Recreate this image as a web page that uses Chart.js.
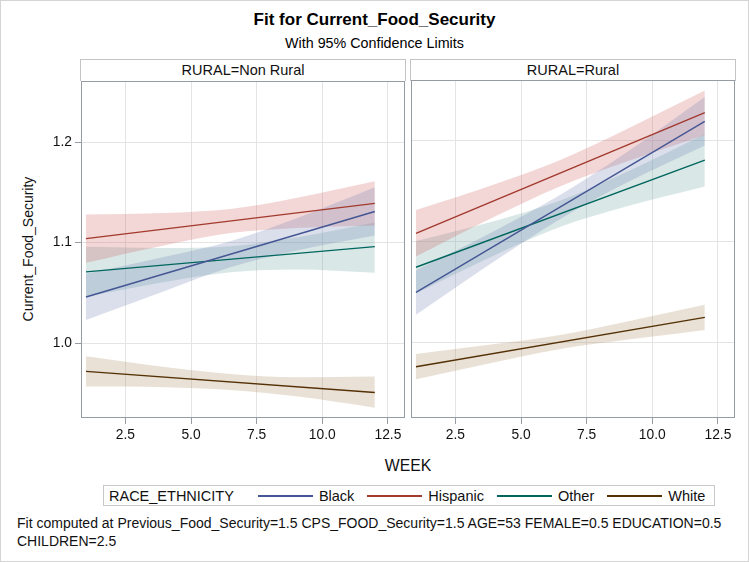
<!DOCTYPE html>
<html>
<head>
<meta charset="utf-8">
<script src="https://cdn.jsdelivr.net/npm/chart.js@4/dist/chart.umd.min.js"></script>
<style>
  html, body { margin: 0; padding: 0; background: #fff; }
  #wrap { position: relative; width: 749px; height: 562px; overflow: hidden; background: #fff;
          font-family: 'Liberation Sans', Arial, sans-serif; color: #000; }
  .abs { position: absolute; }
  #frame { left: 0; top: 0; width: 749px; height: 562px; box-sizing: border-box; border: 1px solid #d4d4d4; }
  #title { left: 0; width: 749px; top: 9px; text-align: center; font-weight: bold; font-size: 17px; line-height: 22px; }
  #subtitle { left: 0; width: 749px; top: 34px; text-align: center; font-size: 14.3px; line-height: 18px; }
  .hdr { top: 59px; height: 22px; box-sizing: border-box; border: 1px solid #c4c4c4; border-bottom: none;
         text-align: center; font-size: 14.5px; line-height: 20px; color: #111; }
  #ytitle { left: 28px; top: 249px; transform: translate(-50%, -50%) rotate(-90deg); white-space: nowrap; font-size: 14px; color: #111; }
  #xtitle { left: 408px; top: 466px; transform: translate(-50%, -50%); font-size: 15.8px; color: #111; }
  #legend { left: 103px; top: 485px; width: 612px; height: 21px; box-sizing: border-box; border: 1px solid #c8c8c8;
            display: flex; align-items: center; font-size: 14.5px; color: #111; padding-left: 5px; white-space: nowrap; }
  .lgline { display: block; flex: 0 0 55px; width: 55px; height: 2px; }
  #foot { left: 17px; top: 514px; font-size: 14px; line-height: 18px; color: #111; white-space: nowrap; }
  canvas { position: absolute; }
</style>
</head>
<body>
<div id="wrap">
  <div id="frame" class="abs"></div>
  <div id="title" class="abs">Fit for Current_Food_Security</div>
  <div id="subtitle" class="abs">With 95% Confidence Limits</div>
  <div id="hdrL" class="abs hdr" style="left:80px;width:326px;"></div>
  <div id="hdrR" class="abs hdr" style="left:410px;width:326px;"></div>
  <div id="ytitle" class="abs">Current_Food_Security</div>
  <div id="xtitle" class="abs">WEEK</div>
  <canvas id="cL" width="410" height="392" style="left:0px;top:70px;"></canvas>
  <canvas id="cR" width="334" height="392" style="left:406px;top:70px;"></canvas>
  <div id="legend" class="abs"></div>
  <div id="foot" class="abs">Fit computed at Previous_Food_Security=1.5 CPS_FOOD_Security=1.5 AGE=53 FEMALE=0.5 EDUCATION=0.5<br>CHILDREN=2.5</div>
</div>
<script>
// ---------- data ----------
const panelLabels = ['RURAL=Non Rural', 'RURAL=Rural'];
const races = ['Black', 'Hispanic', 'Other', 'White'];
const legendTitle = 'RACE_ETHNICITY';
const lineWeeks = [1, 12];
const bandWeeks = [1, 4, 6.5, 9, 12];
const xTicks = [2.5, 5.0, 7.5, 10.0, 12.5];
const yTicks = [1.0, 1.1, 1.2];

// Non Rural panel
const nrBlackFit   = [1.046, 1.131];
const nrBlackUpper = [1.069, 1.086, 1.1015, 1.124, 1.155];
const nrBlackLower = [1.023, 1.052, 1.0755, 1.092, 1.107];
const nrHispFit    = [1.104, 1.139];
const nrHispUpper  = [1.128, 1.1295, 1.1335, 1.1445, 1.161];
const nrHispLower  = [1.080, 1.0975, 1.1095, 1.1145, 1.117];
const nrOtherFit   = [1.071, 1.096];
const nrOtherUpper = [1.096, 1.0948, 1.0965, 1.1052, 1.120];
const nrOtherLower = [1.046, 1.0608, 1.0705, 1.0732, 1.070];
const nrWhiteFit   = [0.972, 0.951];
const nrWhiteUpper = [0.987, 0.9763, 0.9695, 0.9662, 0.967];
const nrWhiteLower = [0.957, 0.9563, 0.9535, 0.9472, 0.936];

// Rural panel
const rBlackFit   = [1.050, 1.2195];
const rBlackUpper = [1.072, 1.1112, 1.1468, 1.1883, 1.2435];
const rBlackLower = [1.028, 1.0812, 1.1228, 1.1583, 1.1955];
const rHispFit    = [1.1086, 1.228];
const rHispUpper  = [1.1316, 1.1572, 1.1813, 1.2115, 1.250];
const rHispLower  = [1.0856, 1.1252, 1.1553, 1.1795, 1.206];
const rOtherFit   = [1.075, 1.181];
const rOtherUpper = [1.101, 1.1209, 1.141, 1.1691, 1.207];
const rOtherLower = [1.049, 1.0869, 1.115, 1.1351, 1.155];
const rWhiteFit   = [0.9765, 1.0254];
const rWhiteUpper = [0.989, 0.9989, 1.008, 1.0211, 1.0379];
const rWhiteLower = [0.964, 0.9809, 0.994, 1.0031, 1.0129];

// ---------- styles ----------
const lineColors = ['#445694', '#A23A2E', '#01665E', '#543005'];
const bandColors = ['rgba(111,126,179,0.25)', 'rgba(208,91,91,0.25)', 'rgba(102,165,160,0.25)', 'rgba(169,134,91,0.25)'];
const frameColor = '#959ca3';
const gridColor = '#e4e4e4';

Chart.defaults.font.family = "'Liberation Sans', Arial, sans-serif";
Chart.defaults.font.size = 13.8;
Chart.defaults.color = '#111';

document.getElementById('hdrL').textContent = panelLabels[0];
document.getElementById('hdrR').textContent = panelLabels[1];

// legend
const leg = document.getElementById('legend');
const lt = document.createElement('span'); lt.textContent = legendTitle; leg.appendChild(lt);
races.forEach((r, i) => {
  const ln = document.createElement('div'); ln.className = 'lgline';
  ln.style.background = lineColors[i]; ln.style.marginLeft = (i === 0 ? 24 : 13) + 'px';
  leg.appendChild(ln);
  const tx = document.createElement('span'); tx.textContent = r; tx.style.marginLeft = '6px';
  leg.appendChild(tx);
});

const framePlugin = {
  id: 'frame',
  afterDraw(chart) {
    const a = chart.chartArea, ctx = chart.ctx;
    ctx.save();
    ctx.strokeStyle = frameColor; ctx.lineWidth = 1;
    ctx.strokeRect(Math.round(a.left) + 0.5, Math.round(a.top) + 0.5, Math.round(a.right - a.left) - 1, Math.round(a.bottom - a.top) - 1);
    ctx.restore();
  }
};

function pts(xs, ys) { return xs.map((x, i) => ({ x: x, y: ys[i] })); }

function makeChart(id, fits, uppers, lowers, showY, yWidth) {
  const datasets = [];
  races.forEach((r, i) => {
    datasets.push({ label: r, data: pts(lineWeeks, fits[i]), borderColor: lineColors[i], borderWidth: 1.4,
                    pointRadius: 0, fill: false, tension: 0 });
  });
  races.forEach((r, i) => {
    datasets.push({ label: r + ' upper', data: pts(bandWeeks, uppers[i]), borderWidth: 0, borderColor: 'rgba(0,0,0,0)',
                    pointRadius: 0, fill: false, cubicInterpolationMode: 'monotone' });
    datasets.push({ label: r + ' lower', data: pts(bandWeeks, lowers[i]), borderWidth: 0, borderColor: 'rgba(0,0,0,0)',
                    pointRadius: 0, fill: '-1', backgroundColor: bandColors[i], cubicInterpolationMode: 'monotone' });
  });
  return new Chart(document.getElementById(id), {
    type: 'line',
    data: { datasets: datasets },
    options: {
      responsive: false, animation: false, devicePixelRatio: 1,
      layout: { padding: { top: 10, right: 5, bottom: 0, left: 0 } },
      plugins: { legend: { display: false }, tooltip: { enabled: false }, title: { display: false } },
      scales: {
        x: {
          type: 'linear', min: 0.81, max: 13.15,
          afterBuildTicks: s => { s.ticks = xTicks.map(v => ({ value: v })); },
          afterFit: s => { s.height = 44; },
          ticks: { callback: v => Number(v).toFixed(1), maxRotation: 0, autoSkip: false, padding: 3, color: '#111' },
          grid: { color: gridColor, tickColor: frameColor, tickLength: 6 },
          border: { display: false }
        },
        y: {
          type: 'linear', min: 0.9257, max: 1.2604,
          afterBuildTicks: s => { s.ticks = yTicks.map(v => ({ value: v })); },
          afterFit: s => { s.width = yWidth; },
          ticks: { display: showY, callback: v => Number(v).toFixed(1), padding: 3, color: '#111' },
          grid: { color: gridColor, tickColor: frameColor, tickLength: 6, drawTicks: showY },
          border: { display: false }
        }
      }
    },
    plugins: [framePlugin]
  });
}

makeChart('cL',
  [nrBlackFit, nrHispFit, nrOtherFit, nrWhiteFit],
  [nrBlackUpper, nrHispUpper, nrOtherUpper, nrWhiteUpper],
  [nrBlackLower, nrHispLower, nrOtherLower, nrWhiteLower], true, 81);
makeChart('cR',
  [rBlackFit, rHispFit, rOtherFit, rWhiteFit],
  [rBlackUpper, rHispUpper, rOtherUpper, rWhiteUpper],
  [rBlackLower, rHispLower, rOtherLower, rWhiteLower], false, 5);
</script>
</body>
</html>
